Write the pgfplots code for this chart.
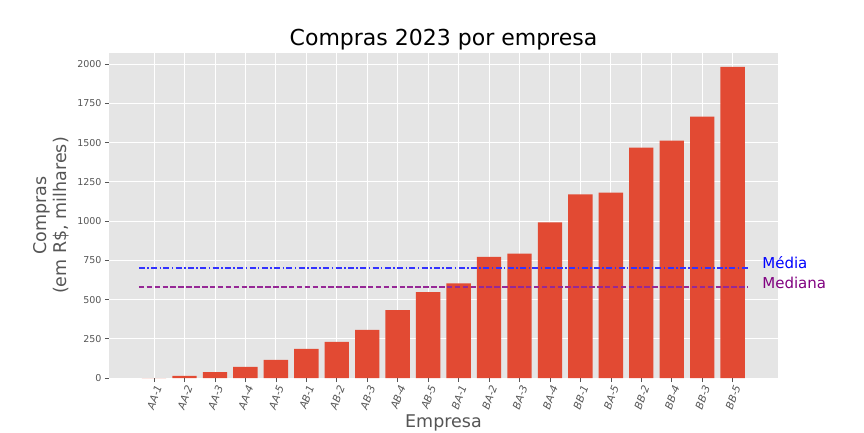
\documentclass[border=0pt]{standalone}
\usepackage{fontspec}
\setmainfont{DejaVu Sans}
\usepackage{pgfplots}
\pgfplotsset{compat=1.18}
\definecolor{bg}{HTML}{E5E5E5}
\definecolor{barc}{HTML}{E24A33}
\definecolor{tickc}{HTML}{555555}
\definecolor{purp}{HTML}{800080}
\definecolor{meanc}{HTML}{3333FF}
\definecolor{medc}{HTML}{962896}
\begin{document}
\begin{tikzpicture}
\useasboundingbox (0pt,0pt) rectangle (864pt,432pt);
\begin{axis}[
  at={(109pt,54pt)}, anchor=south west,
  width=669pt, height=325pt, scale only axis,
  xmin=-1.48, xmax=20.49, ymin=0, ymax=2072,
  clip=false,
  axis background/.style={fill=bg},
  axis line style={draw=none},
  grid=major, major grid style={white, line width=0.9pt},
  xtick={0,...,19},
  xticklabels={AA-1,AA-2,AA-3,AA-4,AA-5,AB-1,AB-2,AB-3,AB-4,AB-5,BA-1,BA-2,BA-3,BA-4,BB-1,BA-5,BB-2,BB-4,BB-3,BB-5},
  ytick={0,250,...,2000},
  tick pos=left, tick align=outside,
  major tick length=4pt,
  tick style={tickc, line width=0.6pt},
  /pgf/number format/assume math mode=true,
  /pgf/number format/1000 sep={},
  yticklabel style={font=\fontsize{9.5}{11}\selectfont, text=tickc},
  xticklabel style={font=\fontsize{10.5}{12}\selectfont\itshape, text=tickc, rotate=70, anchor=north east, inner sep=1.5pt},
  title={Compras 2023 por empresa},
  title style={at={(axis description cs:0.5,1)}, anchor=base, yshift=1.5pt, font=\fontsize{22}{26}\selectfont, text=black},
  xlabel={Empresa},
  xlabel style={at={(axis description cs:0.5,-0.1385)}, anchor=center, font=\fontsize{17.5}{20}\selectfont, text=tickc},
  ylabel={Compras\\(em R\$, milhares)},
  ylabel style={at={(axis description cs:-0.086,0.5)}, anchor=center, align=center, font=\fontsize{17.5}{20}\selectfont, text=tickc},
]
\addplot[ybar, bar width=0.8, fill=barc, draw=none] coordinates {
(0,0) (1,13) (2,38) (3,71) (4,115) (5,186) (6,231) (7,307) (8,433) (9,547)
(10,604) (11,773) (12,793) (13,992) (14,1170) (15,1182) (16,1469) (17,1514) (18,1667) (19,1984)
};
\addplot[color=meanc, line width=1.5pt, dash pattern=on 6pt off 2.4pt on 1.5pt off 2.4pt, mark=none] coordinates {(-0.5,702) (19.5,702)};
\addplot[color=medc, line width=1.8pt, dash pattern=on 5.5pt off 2.4pt, mark=none] table[row sep=\\] {x y\\ -0.5 580\\ 9.5 580\\ 19.5 580\\};
\node[anchor=west, text=blue, font=\fontsize{15}{18}\selectfont, inner sep=0pt] at (axis cs:19.97,735) {Média};
\node[anchor=west, text=purp, font=\fontsize{15}{18}\selectfont, inner sep=0pt] at (axis cs:19.97,608) {Mediana};
\end{axis}
\end{tikzpicture}
\end{document}
